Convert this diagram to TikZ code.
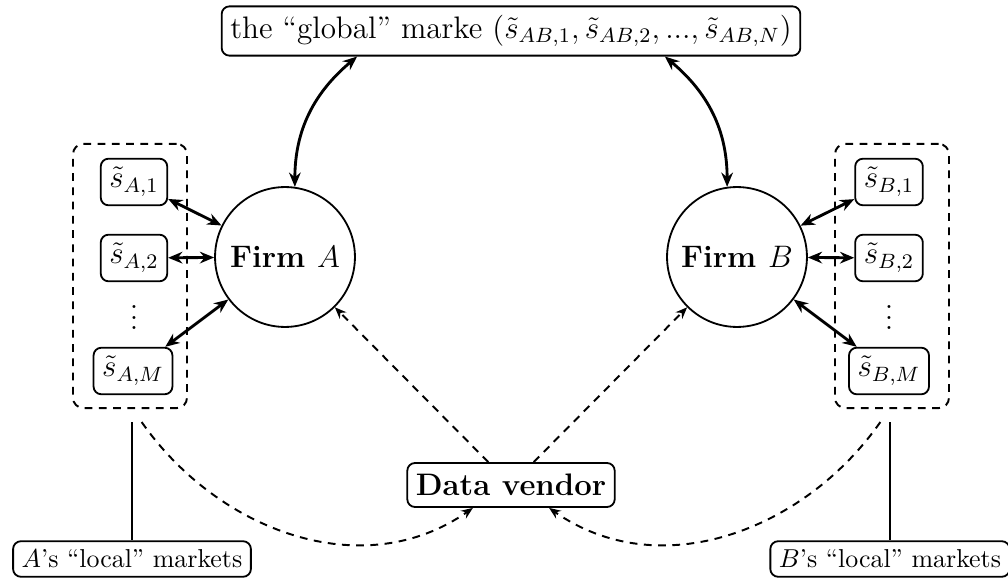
\documentclass[tikz,border=0pt]{standalone}
\usetikzlibrary{arrows.meta,calc}
\begin{document}
\begin{tikzpicture}[x=0.386pt,y=-0.386pt,
  >={Stealth[length=5.5pt,width=4.5pt,inset=1.8pt]},
  bx/.style={draw,rounded corners=3pt,line width=0.7pt,inner sep=3.33pt},
  sbox/.style={bx,font=\large,minimum height=17.5pt},
  firm/.style={draw,circle,line width=0.7pt,minimum size=54pt,font=\large\bfseries,inner sep=0pt},
  cont/.style={draw,dash pattern=on 3pt off 2.5pt,rounded corners=4pt,line width=0.75pt,minimum width=44pt,minimum height=102pt},
  dbl/.style={<->,line width=1.1pt},
  dsh/.style={->,>={Stealth[length=4.5pt,width=3.6pt,inset=1.5pt]},dash pattern=on 3pt off 2.5pt,line width=0.75pt},
  solid line/.style={line width=0.75pt},
]
\useasboundingbox (0,0) rectangle (1008,579);
% nodes
\node[bx,font=\large] (glob) at (511,31) {the ``global'' marke $(\tilde{s}_{AB,1},\tilde{s}_{AB,2},...,\tilde{s}_{AB,N})$};
\node[cont] (contA) at (130,276) {};
\node[cont] (contB) at (892,276) {};
\node[sbox] (sA1) at (134,182) {$\tilde{s}_{A,1}$};
\node[sbox] (sA2) at (134,258) {$\tilde{s}_{A,2}$};
\node[font=\large] (dA) at (134,310) {$\vdots$};
\node[sbox] (sAM) at (133,371) {$\tilde{s}_{A,M}$};
\node[sbox] (sB1) at (889,182) {$\tilde{s}_{B,1}$};
\node[sbox] (sB2) at (889,258) {$\tilde{s}_{B,2}$};
\node[font=\large] (dB) at (889,310) {$\vdots$};
\node[sbox] (sBM) at (889,371) {$\tilde{s}_{B,M}$};
\node[firm] (FA) at (285,257) {Firm $A$};
\node[firm] (FB) at (737,257) {Firm $B$};
\node[bx,font=\large\bfseries,minimum height=17pt] (dv) at (511,485) {Data vendor};
\node[bx] (LA) at (132,559) {$A$'s ``local'' markets};
\node[bx] (LB) at (890,559) {$B$'s ``local'' markets};
% connectors
\draw[dbl] ([xshift=-59.4pt]glob.south) to[out=-140,in=90] (FA.82);
\draw[dbl] ([xshift=59.4pt]glob.south) to[out=-40,in=90] (FB.98);
\foreach \n in {sA1,sA2,sAM} \draw[dbl] (\n) -- (FA);
\foreach \n in {sB1,sB2,sBM} \draw[dbl] (\n) -- (FB);
\draw[dsh] (dv) -- (FA);
\draw[dsh] (dv) -- (FB);
\draw[dsh] ([xshift=4.5pt,yshift=-5pt]contA.south) to[out=-55,in=-145] ([xshift=-14.7pt]dv.south);
\draw[dsh] ([xshift=-4.5pt,yshift=-5pt]contB.south) to[out=-125,in=-35] ([xshift=14.7pt]dv.south);
\draw[solid line] ([yshift=-5pt]contA.south -| LA.north) -- (LA.north);
\draw[solid line] ([yshift=-5pt]contB.south -| LB.north) -- (LB.north);
\end{tikzpicture}
\end{document}
